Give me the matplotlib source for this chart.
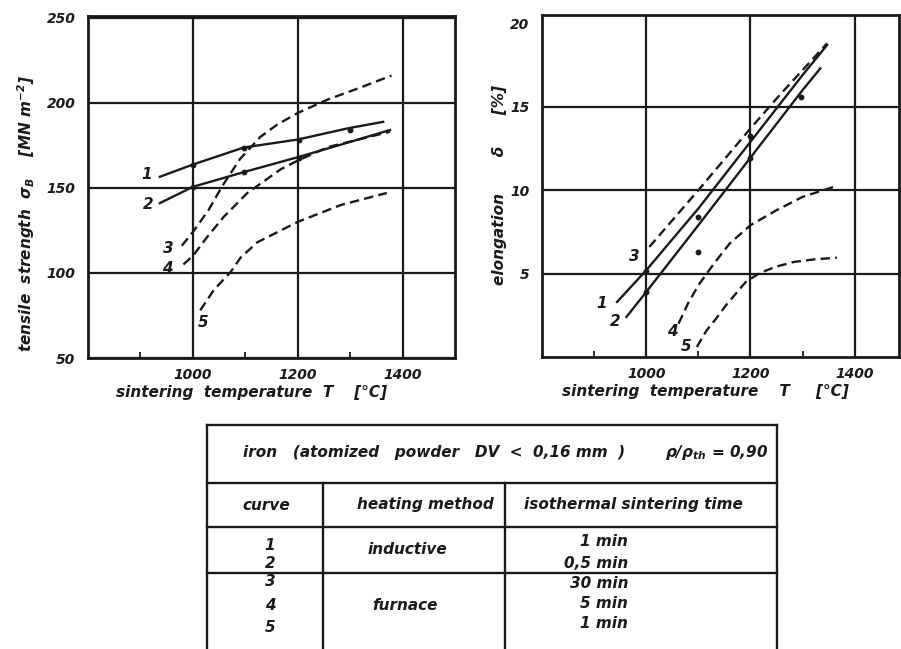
import matplotlib
matplotlib.use("Agg")
import matplotlib.pyplot as plt
from matplotlib.lines import Line2D

plt.rcParams['font.family'] = ['DejaVu Sans']
plt.rcParams['font.style'] = 'italic'
plt.rcParams['font.weight'] = 'bold'
plt.rcParams['axes.labelweight'] = 'bold'
plt.rcParams['mathtext.default'] = 'regular'

INK = '#1a1a1a'

# ---------------- data: tensile strength (MN m^-2) ----------------
ts_T1 = [937, 1000, 1097, 1200, 1296, 1363]
ts_v1 = [156.5, 163.7, 173.7, 178.4, 185, 188.8]
ts_T2 = [937, 1000, 1100, 1200, 1300, 1376]
ts_v2 = [141, 150.6, 159.5, 168, 177, 184]
ts_T3 = [979, 1000, 1030, 1056, 1090, 1129, 1160, 1200, 1258, 1320, 1379]
ts_v3 = [116, 124, 137, 151, 167, 180, 187, 194, 202, 209, 216]
ts_T4 = [982, 1000, 1027, 1059, 1104, 1168, 1200, 1258, 1376]
ts_v4 = [105, 110, 121, 133, 147, 161, 166, 174, 183]
ts_T5 = [1014, 1040, 1072, 1091, 1123, 1200, 1283, 1370]
ts_v5 = [78, 90, 100.5, 109, 118, 130, 140, 147]
ts_pts_T = [1000, 1000, 1097, 1097, 1203, 1203, 1300]
ts_pts_v = [163.7, 150.6, 173.7, 159.4, 178, 167.3, 184]

# ---------------- data: elongation (%) ----------------
el_T1 = [944, 1000, 1100, 1200, 1300, 1347]
el_v1 = [3.3, 5.2, 8.9, 12.9, 16.9, 18.7]
el_T2 = [962, 1000, 1100, 1200, 1300, 1334]
el_v2 = [2.4, 3.9, 7.9, 11.95, 16.0, 17.3]
el_T3 = [1006, 1100, 1200, 1256, 1300, 1347]
el_v3 = [6.6, 10.0, 13.7, 15.7, 17.2, 18.8]
el_T4 = [1062, 1080, 1100, 1130, 1160, 1200, 1250, 1300, 1360]
el_v4 = [2.0, 3.2, 4.3, 5.6, 6.8, 7.9, 8.8, 9.6, 10.2]
el_T5 = [1097, 1116, 1134, 1153, 1172, 1191, 1216, 1247, 1284, 1322, 1366]
el_v5 = [0.6, 1.6, 2.3, 3.1, 3.8, 4.5, 5.0, 5.4, 5.7, 5.85, 5.95]
el_pts_T = [1000, 1000, 1100, 1100, 1200, 1200, 1297]
el_pts_v = [5.18, 3.88, 8.37, 6.27, 13.25, 11.95, 15.6]

curve_ids = ['1', '2', '3', '4', '5']
curve_dashed = [False, False, True, True, True]

# table content
table_title = 'iron   (atomized   powder   DV  <  0,16 mm  )'
table_ratio = r'ρ/ρ$_{th}$ = 0,90'
col_heads = ['curve', 'heating method', 'isothermal sintering time']
heating_methods = ['inductive', 'furnace']
sinter_times = ['1 min', '0,5 min', '30 min', '5 min', '1 min']

x_ticks = [1000, 1200, 1400]
x_minor = [900, 1100, 1300]
ts_ticks = [50, 100, 150, 200, 250]
el_ticks = [5, 10, 15, 20]

W, H = 901, 649
fig = plt.figure(figsize=(W / 100, H / 100), dpi=100)
fig.patch.set_facecolor('white')


def px_axes(x0, y0, x1, y1):
    return fig.add_axes([x0 / W, 1 - y1 / H, (x1 - x0) / W, (y1 - y0) / H])


def style(ax, xlim, ylim, yt, ytl):
    ax.set_xlim(*xlim)
    ax.set_ylim(*ylim)
    ax.set_xticks(x_ticks)
    ax.set_xticks(x_minor, minor=True)
    ax.set_yticks(yt)
    ax.set_yticklabels(ytl)
    ax.grid(True, which='major', color=INK, lw=1.6)
    ax.tick_params(which='major', length=0, labelsize=10, colors=INK)
    ax.tick_params(axis='x', which='major', pad=7)
    ax.tick_params(axis='y', which='major', pad=9)
    ax.tick_params(axis='x', which='minor', direction='in', length=4, width=1.3, color=INK)
    ax.tick_params(axis='y', which='minor', length=0)
    for s in ax.spines.values():
        s.set_linewidth(2.0)
        s.set_color(INK)
    ax.set_axisbelow(True)


def draw_curves(ax, Ts, Vs):
    for T, V, dashed in zip(Ts, Vs, curve_dashed):
        if dashed:
            ax.plot(T, V, color=INK, lw=1.7, dashes=(4, 2.2), solid_capstyle='butt')
        else:
            ax.plot(T, V, color=INK, lw=1.7)


# ---------------- left: tensile strength ----------------
ax1 = px_axes(88, 16, 455, 358)
style(ax1, (800, 1500), (50, 251), ts_ticks, [str(t) for t in ts_ticks])
draw_curves(ax1, [ts_T1, ts_T2, ts_T3, ts_T4, ts_T5], [ts_v1, ts_v2, ts_v3, ts_v4, ts_v5])
ax1.plot(ts_pts_T, ts_pts_v, 'o', ms=3.2, color=INK, mfc=INK)
ts_lab_T = [911, 914, 953, 951, 1019]
ts_lab_v = [157.6, 140, 114.3, 102.6, 71]
for c, t, v in zip(curve_ids, ts_lab_T, ts_lab_v):
    ax1.text(t, v, c, fontsize=11, ha='center', va='center', color=INK)
ax1.set_xlabel('sintering  temperature  T    [°C]', fontsize=11, color=INK)
ax1.xaxis.set_label_coords(0.447, -0.078)
ax1.set_ylabel(r'tensile  strength  σ$_B$    [MN m$^{-2}$]', fontsize=11, color=INK)
ax1.yaxis.set_label_coords(-0.14, 0.424)

# ---------------- right: elongation ----------------
ax2 = px_axes(542, 15, 899, 357)
style(ax2, (800, 1485), (0, 20.5), el_ticks, [str(t) for t in el_ticks])
ax2.get_ygridlines()[-1].set_visible(False)
draw_curves(ax2, [el_T1, el_T2, el_T3, el_T4, el_T5], [el_v1, el_v2, el_v3, el_v4, el_v5])
ax2.plot(el_pts_T, el_pts_v, 'o', ms=3.2, color=INK, mfc=INK)
el_lab_T = [915, 940, 977, 1050, 1076]
el_lab_v = [3.23, 2.1, 6.05, 1.5, 0.6]
for c, t, v in zip(curve_ids, el_lab_T, el_lab_v):
    ax2.text(t, v, c, fontsize=11, ha='center', va='center', color=INK)
ax2.set_xlabel('sintering  temperature    T     [°C]', fontsize=11, color=INK)
ax2.xaxis.set_label_coords(0.457, -0.078)
ax2.set_ylabel('elongation       δ      [%]', fontsize=11, color=INK)
ax2.yaxis.set_label_coords(-0.097, 0.503)

# ---------------- table ----------------
axt = fig.add_axes([0, 0, 1, 1], zorder=-1)
axt.set_xlim(0, W)
axt.set_ylim(H, 0)
axt.axis('off')
L, R, T0 = 207, 777, 425
c1, c2 = 323, 505
rows_y = [483, 527, 573]
lw = 1.7
axt.add_line(Line2D([L, R], [T0, T0], color=INK, lw=lw))
for y in rows_y:
    axt.add_line(Line2D([L, R], [y, y], color=INK, lw=lw))
axt.add_line(Line2D([L, L], [T0, H], color=INK, lw=lw))
axt.add_line(Line2D([R, R], [T0, H], color=INK, lw=lw))
for x in (c1, c2):
    axt.add_line(Line2D([x, x], [rows_y[0], H], color=INK, lw=lw))

fs = 11
axt.text(243, 453, table_title, fontsize=fs, ha='left', va='center', color=INK)
axt.text(768, 453, table_ratio, fontsize=fs, ha='right', va='center', color=INK)
axt.text(266, 505, col_heads[0], fontsize=fs, ha='center', va='center', color=INK)
axt.text(425, 505, col_heads[1], fontsize=fs, ha='center', va='center', color=INK)
axt.text(633, 505, col_heads[2], fontsize=fs, ha='center', va='center', color=INK)

num_y = [545, 563, 582, 605, 627]
for c, y in zip(curve_ids, num_y):
    axt.text(270, y, c, fontsize=fs, ha='center', va='center', color=INK)
axt.text(407, 550, heating_methods[0], fontsize=fs, ha='center', va='center', color=INK)
axt.text(405, 605, heating_methods[1], fontsize=fs, ha='center', va='center', color=INK)
time_y = [542, 563, 583, 603, 623]
for s, y in zip(sinter_times, time_y):
    axt.text(628, y, s, fontsize=fs, ha='right', va='center', color=INK)

fig.savefig('out.png', dpi=100, facecolor='white')
